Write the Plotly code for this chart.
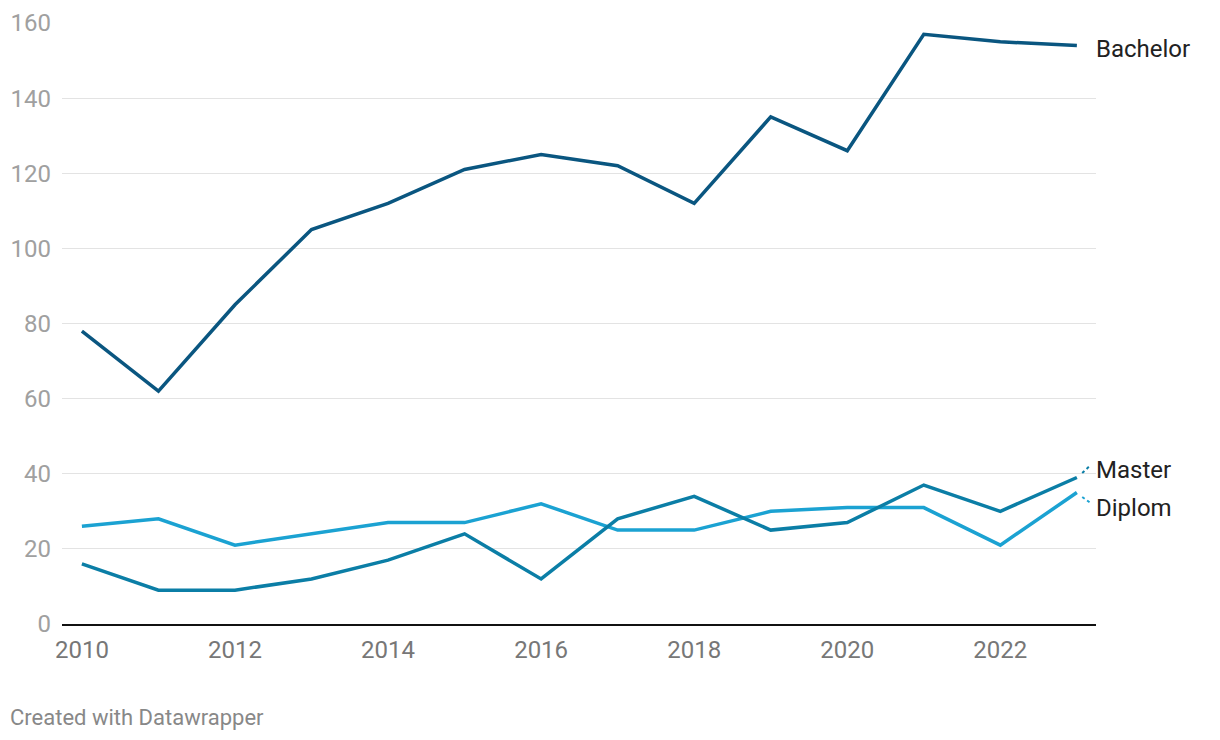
import plotly.graph_objects as go

years = list(range(2010, 2024))
bachelor = [78, 62, 85, 105, 112, 121, 125, 122, 112, 135, 126, 157, 155, 154]
master = [16, 9, 9, 12, 17, 24, 12, 28, 34, 25, 27, 37, 30, 39]
diplom = [26, 28, 21, 24, 27, 27, 32, 25, 25, 30, 31, 31, 21, 35]

y_ticks = [0, 20, 40, 60, 80, 100, 120, 140, 160]
x_ticks = [2010, 2012, 2014, 2016, 2018, 2020, 2022]

COLORS = {'Bachelor': '#0a5680', 'Master': '#0b7ea6', 'Diplom': '#1ba2d2'}

fig = go.Figure()

# draw order: Diplom below, then Master, then Bachelor
for name, values in [('Diplom', diplom), ('Master', master), ('Bachelor', bachelor)]:
    fig.add_trace(go.Scatter(
        x=years,
        y=values,
        mode='lines',
        name=name,
        line=dict(color=COLORS[name], width=3.5),
        hovertemplate='<b>' + name + '</b><br>%{x}: %{y}<extra></extra>'
    ))

# line-end labels (Master / Diplom nudged apart)
labels = [('Bachelor', bachelor[-1] - 1), ('Master', master[-1] + 2), ('Diplom', diplom[-1] - 4)]
for name, ypos in labels:
    fig.add_annotation(
        x=1, xref='paper', y=ypos, yref='y',
        text=name, showarrow=False,
        xanchor='left', xshift=-2,
        font=dict(family='Roboto', size=24, color='#222222')
    )

# small dotted connectors for the nudged labels
fig.add_shape(type='line', xref='x', yref='y',
              x0=2023.07, y0=master[-1] + 1.2, x1=2023.18, y1=master[-1] + 3.3,
              line=dict(color=COLORS['Master'], width=2, dash='dot'))
fig.add_shape(type='line', xref='x', yref='y',
              x0=2023.07, y0=diplom[-1] - 1.2, x1=2023.18, y1=diplom[-1] - 2.8,
              line=dict(color=COLORS['Diplom'], width=2, dash='dot'))

fig.add_annotation(
    x=0, xref='paper', y=0, yref='paper', yshift=-93,
    text='Created with Datawrapper', showarrow=False,
    xanchor='left', yanchor='middle', xshift=-54,
    font=dict(family='Roboto', size=22, color='#888888')
)

# the page body adds an 8px margin, so the figure is 16px smaller than the window
fig.update_layout(
    width=1204,
    height=724,
    margin=dict(l=54, r=116, t=15, b=108),
    paper_bgcolor='white',
    plot_bgcolor='white',
    showlegend=False,
    font=dict(family='Roboto'),
    xaxis=dict(
        range=[2009.74, 2023.25],
        tickvals=x_ticks,
        ticktext=[str(t) for t in x_ticks],
        showgrid=False,
        zeroline=False,
        showline=True,
        linecolor='#111111',
        linewidth=2,
        ticks='',
        tickfont=dict(family='Roboto', size=24, color='#777777'),
        ticklabelstandoff=3,
        automargin=False,
    ),
    yaxis=dict(
        range=[0, 160],
        tickvals=y_ticks,
        showgrid=True,
        gridcolor='#e3e3e3',
        gridwidth=1.2,
        zeroline=False,
        ticks='',
        tickfont=dict(family='Roboto', size=24, color='#a0a0a0'),
        ticklabelstandoff=10,
        automargin=False,
    ),
)

fig.write_html("out.html")
